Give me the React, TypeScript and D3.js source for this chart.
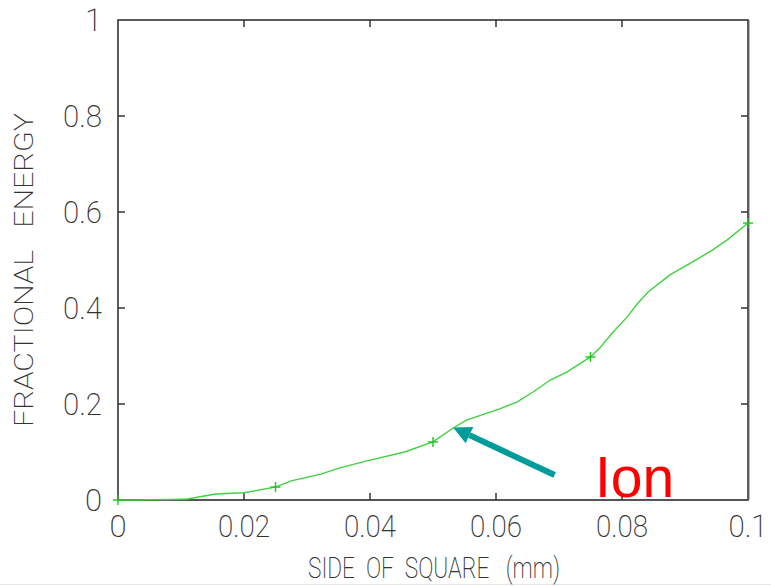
import React from 'react';
import * as d3 from 'd3';

// curve: side of square (mm) -> fractional energy
const sideMm = [0, 0.0022, 0.0086, 0.011, 0.0155, 0.02, 0.0225, 0.025, 0.0275, 0.0322, 0.0352, 0.04, 0.0455, 0.05,
  0.0532, 0.0554, 0.0606, 0.0633, 0.0659, 0.0686, 0.0713, 0.075, 0.0765, 0.0786, 0.0808, 0.0825, 0.0841, 0.0876,
  0.0908, 0.0944, 0.0967, 0.1];
const energy = [0, 0, 0.001, 0.002, 0.0125, 0.015, 0.021, 0.027, 0.04, 0.054, 0.067, 0.083, 0.1, 0.121,
  0.15, 0.167, 0.19, 0.204, 0.225, 0.25, 0.267, 0.298, 0.317, 0.35, 0.381, 0.41, 0.433, 0.469,
  0.493, 0.521, 0.542, 0.577];

// sampled points with a "+" marker
const markerX = [0, 0.025, 0.05, 0.075, 0.1];
const markerY = [0, 0.027, 0.121, 0.298, 0.577];

const xTicks = [0, 0.02, 0.04, 0.06, 0.08, 0.1];
const xTickLabels = ['0', '0.02', '0.04', '0.06', '0.08', '0.1'];
const yTicks = [0, 0.2, 0.4, 0.6, 0.8, 1];
const yTickLabels = ['0', '0.2', '0.4', '0.6', '0.8', '1'];

// annotation: arrow from tail to a point on the curve
const arrowFrom = [0.0693, 0.052];
const arrowTo = [0.0532, 0.151];
const annotation = 'Ion';

const W = 771;
const H = 586;
const margin = { top: 20, right: 23, bottom: 86, left: 118 };

const App = () => {
  const x = d3.scaleLinear().domain([0, 0.1]).range([margin.left, W - margin.right]);
  const y = d3.scaleLinear().domain([0, 1]).range([H - margin.bottom, margin.top]);
  const x0 = x(0), x1 = x(0.1), y0 = y(0), y1 = y(1);

  const pts: [number, number][] = sideMm.map((d, i) => [d, energy[i]]);
  const line = d3.line<[number, number]>().x(d => x(d[0])).y(d => y(d[1]));

  const font = 'Roboto, "DejaVu Sans", sans-serif';
  const axisColor = '#333';
  const tick = 7;

  // arrow geometry
  const ax0 = x(arrowFrom[0]), ay0 = y(arrowFrom[1]);
  const ax1 = x(arrowTo[0]), ay1 = y(arrowTo[1]);
  const ang = Math.atan2(ay1 - ay0, ax1 - ax0);
  const headLen = 18, headW = 9;
  const bx = ax1 - headLen * Math.cos(ang), by = ay1 - headLen * Math.sin(ang);
  const px = -Math.sin(ang), py = Math.cos(ang);
  const head = `M${ax1},${ay1}L${bx + headW * px},${by + headW * py}L${bx - headW * px},${by - headW * py}Z`;

  return (
    <svg width={W} height={H} style={{ position: 'absolute', left: 0, top: 0, background: '#fff' }}>
      {/* frame */}
      <rect x={x0} y={y1} width={x1 - x0} height={y0 - y1} fill="none" stroke={axisColor} strokeWidth={1.6} />
      <line x1={x0} x2={x1} y1={y0} y2={y0} stroke="#555" strokeWidth={2} />
      <line x1={x1 + 1.5} x2={x1 + 1.5} y1={y1} y2={y0} stroke="#bbb" strokeWidth={1} />
      <line x1={0} x2={W} y1={H - 1.5} y2={H - 1.5} stroke="#e6e6e6" strokeWidth={1} />

      {/* ticks, pointing inwards on all four sides */}
      {xTicks.slice(1, -1).map(t => (
        <g key={'xt' + t}>
          <line x1={x(t)} x2={x(t)} y1={y0} y2={y0 - tick} stroke={axisColor} strokeWidth={1.5} />
          <line x1={x(t)} x2={x(t)} y1={y1} y2={y1 + tick} stroke={axisColor} strokeWidth={1.5} />
        </g>
      ))}
      {yTicks.slice(1, -1).map(t => (
        <g key={'yt' + t}>
          <line x1={x0} x2={x0 + tick} y1={y(t)} y2={y(t)} stroke={axisColor} strokeWidth={1.5} />
          <line x1={x1} x2={x1 - tick} y1={y(t)} y2={y(t)} stroke={axisColor} strokeWidth={1.5} />
        </g>
      ))}

      {/* tick labels */}
      {xTicks.map((t, i) => (
        <text key={'xl' + t} x={x(t)} y={537} textAnchor="middle" fontFamily={font} fontWeight={200}
          fontSize={31} fill="#333" textLength={xTickLabels[i].length > 1 ? xTickLabels[i].length * 13 : undefined}
          lengthAdjust="spacingAndGlyphs">{xTickLabels[i]}</text>
      ))}
      {yTicks.map((t, i) => (
        <text key={'yl' + t} x={102} y={y(t) + 11} textAnchor="end" fontFamily={font} fontWeight={200}
          fontSize={31} fill="#333" textLength={yTickLabels[i].length > 1 ? yTickLabels[i].length * 13 : undefined}
          lengthAdjust="spacingAndGlyphs">{yTickLabels[i]}</text>
      ))}

      {/* axis titles */}
      <text x={434} y={578} textAnchor="middle" fontFamily={font} fontWeight={200} fontSize={29} fill="#333"
        textLength={252} lengthAdjust="spacingAndGlyphs" style={{ whiteSpace: 'pre' }}>{'SIDE  OF  SQUARE   (mm)'}</text>
      <text transform="translate(33,270) rotate(-90)" textAnchor="middle" fontFamily={font} fontWeight={200}
        fontSize={25} fill="#333" textLength={314} lengthAdjust="spacingAndGlyphs"
        style={{ whiteSpace: 'pre' }}>{'FRACTIONAL   ENERGY'}</text>

      {/* curve */}
      <path d={line(pts) ?? ''} fill="none" stroke="#3fd23f" strokeWidth={1.4} />
      {markerX.map((m, i) => (
        <g key={'m' + i} stroke="#1fc41f" strokeWidth={1.4}>
          <line x1={x(m) - 5} x2={x(m) + 5} y1={y(markerY[i])} y2={y(markerY[i])} />
          <line x1={x(m)} x2={x(m)} y1={y(markerY[i]) - 5} y2={y(markerY[i]) + 5} />
        </g>
      ))}

      {/* annotation */}
      <line x1={ax0} y1={ay0} x2={bx} y2={by} stroke="#009b9b" strokeWidth={6} />
      <path d={head} fill="#009b9b" />
      <text x={595} y={497} fontFamily='"Liberation Sans", Arial, sans-serif' fontSize={57} fill="#ff0000">{annotation}</text>
    </svg>
  );
};

export default App;
